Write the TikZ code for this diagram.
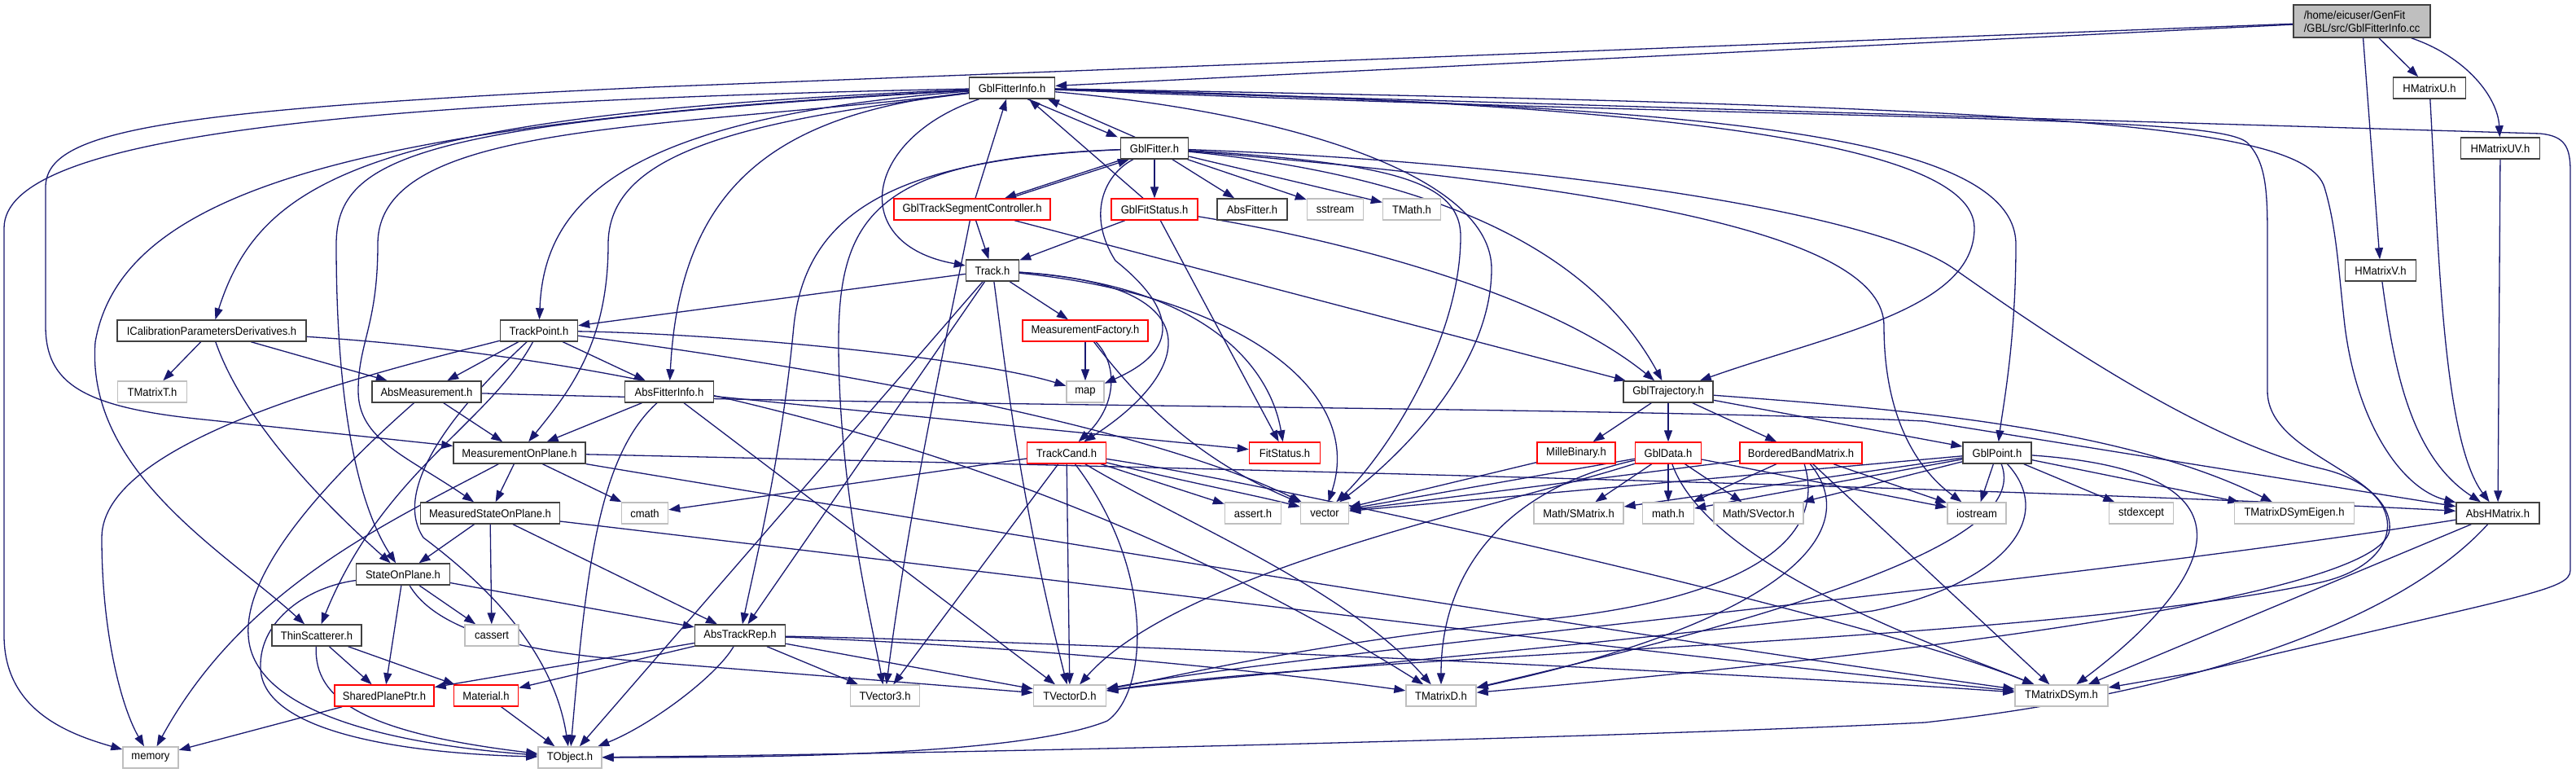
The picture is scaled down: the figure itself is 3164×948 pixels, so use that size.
\documentclass[tikz,border=0pt]{standalone}
\usepackage{fontspec}
\setmainfont{Liberation Sans}[FakeStretch=0.93]
\usetikzlibrary{arrows.meta,backgrounds}
\definecolor{eblue}{HTML}{191970}
\definecolor{gbord}{HTML}{BFBFBF}
\definecolor{nbord}{HTML}{404040}
\newcommand{\nfs}{\fontsize{14}{16}\selectfont}
\tikzset{
  box/.style={rectangle, fill=white, line width=1.4pt, minimum height=26pt, inner sep=0pt, font=\nfs},
  nb/.style={box, draw=nbord},
  rb/.style={box, draw=red},
  gb/.style={box, draw=gbord},
  e/.style={draw=eblue, line width=1.3pt, -{Triangle[length=14pt,width=10pt]}},
}
\begin{document}
\begin{tikzpicture}[x=1pt,y=-1pt]
\useasboundingbox (0,0) rectangle (3164,948);
% nodes
\node[box, draw=nbord, fill=gbord, minimum width=168pt, minimum height=40pt, align=left] (root) at (2901,26) {/home/eicuser/GenFit\\/GBL/src/GblFitterInfo.cc};
\node[nb, minimum width=105pt] (fi) at (1243,108) {GblFitterInfo.h};
\node[nb, minimum width=89pt] (hu) at (2984,108) {HMatrixU.h};
\node[nb, minimum width=97pt] (huv) at (3071,182) {HMatrixUV.h};
\node[nb, minimum width=87pt] (hv) at (2924,332) {HMatrixV.h};
\node[nb, minimum width=83pt] (gf) at (1418,182) {GblFitter.h};
\node[rb, minimum width=192pt] (tsc) at (1194,257) {GblTrackSegmentController.h};
\node[rb, minimum width=106pt] (gfs) at (1418,257) {GblFitStatus.h};
\node[nb, minimum width=86pt] (af) at (1538,257) {AbsFitter.h};
\node[gb, minimum width=69pt] (sst) at (1640,257) {sstream};
\node[gb, minimum width=71pt] (tmath) at (1734,257) {TMath.h};
\node[nb, minimum width=65pt] (track) at (1219,332) {Track.h};
\node[nb, minimum width=232pt] (icpd) at (260,406) {ICalibrationParametersDerivatives.h};
\node[nb, minimum width=95pt] (tp) at (662,406) {TrackPoint.h};
\node[rb, minimum width=154pt] (mf) at (1333,406) {MeasurementFactory.h};
\node[gb, minimum width=85pt] (tmt) at (187,481) {TMatrixT.h};
\node[nb, minimum width=134pt] (am) at (524,481) {AbsMeasurement.h};
\node[nb, minimum width=109pt] (afi) at (822,481) {AbsFitterInfo.h};
\node[gb, minimum width=46pt] (map) at (1333,481) {map};
\node[nb, minimum width=110pt] (traj) at (2049,481) {GblTrajectory.h};
\node[nb, minimum width=162pt] (mop) at (638,556) {MeasurementOnPlane.h};
\node[rb, minimum width=97pt] (tc) at (1310,556) {TrackCand.h};
\node[rb, minimum width=87pt] (fs) at (1578,556) {FitStatus.h};
\node[rb, minimum width=96pt] (mb) at (1936,556) {MilleBinary.h};
\node[rb, minimum width=81pt] (gd) at (2049,556) {GblData.h};
\node[rb, minimum width=150pt] (bbm) at (2212,556) {BorderedBandMatrix.h};
\node[nb, minimum width=84pt] (gp) at (2453,556) {GblPoint.h};
\node[nb, minimum width=171pt] (msop) at (602,630) {MeasuredStateOnPlane.h};
\node[gb, minimum width=57pt] (cmath) at (792,630) {cmath};
\node[gb, minimum width=69pt] (asrt) at (1539,630) {assert.h};
\node[gb, minimum width=59pt] (vec) at (1627,630) {vector};
\node[gb, minimum width=110pt] (smat) at (1939,630) {Math/SMatrix.h};
\node[gb, minimum width=63pt] (mathh) at (2049,630) {math.h};
\node[gb, minimum width=110pt] (svec) at (2160,630) {Math/SVector.h};
\node[gb, minimum width=72pt] (ios) at (2428,630) {iostream};
\node[gb, minimum width=79pt] (stde) at (2630,630) {stdexcept};
\node[gb, minimum width=147pt] (tdse) at (2818,630) {TMatrixDSymEigen.h};
\node[nb, minimum width=102pt] (ahm) at (3068,630) {AbsHMatrix.h};
\node[nb, minimum width=115pt] (sop) at (495,705) {StateOnPlane.h};
\node[nb, minimum width=110pt] (ts) at (389,780) {ThinScatterer.h};
\node[gb, minimum width=66pt] (cass) at (604,780) {cassert};
\node[nb, minimum width=111pt] (atr) at (909,780) {AbsTrackRep.h};
\node[rb, minimum width=122pt] (spp) at (472,854) {SharedPlanePtr.h};
\node[rb, minimum width=79pt] (mat) at (597,854) {Material.h};
\node[gb, minimum width=85pt] (tv3) at (1087,854) {TVector3.h};
\node[gb, minimum width=89pt] (tvd) at (1314,854) {TVectorD.h};
\node[gb, minimum width=86pt] (tmd) at (1770,854) {TMatrixD.h};
\node[gb, minimum width=114pt] (tmds) at (2532,854) {TMatrixDSym.h};
\node[gb, minimum width=68pt] (mem) at (185,930) {memory};
\node[gb, minimum width=78pt] (tobj) at (700,930) {TObject.h};

\begin{pgfonlayer}{background}
\fill[white] (0,0) rectangle (3164,948);
% root
\draw[e] (root) -- (fi);
\draw[e] (root) -- (800,107) .. controls (200,135) and (56,160) .. (56,230) -- (56,400) .. controls (56,470) and (100,500) .. (250,515) -- (mop);
\draw[e] (root) -- (hu);
\draw[e] (root) .. controls (3030,70) and (3068,120) .. (huv);
\draw[e] (root) -- (hv);
% HMatrix
\draw[e] (hu) .. controls (2995,300) and (3000,540) .. (ahm);
\draw[e] (huv) -- (ahm);
\draw[e] (hv) .. controls (2940,450) and (2960,560) .. (ahm);
% GblFitterInfo.h
\draw[e] ([xshift=19pt]fi.south) -- ([xshift=-3pt]gf.north west);
\draw[e] (fi) .. controls (1060,170) and (1040,300) .. (track);
\draw[e] (fi) .. controls (450,140) and (320,220) .. (icpd);
\draw[e] (fi) .. controls (760,145) and (668,250) .. (tp);
\draw[e] (fi) .. controls (950,140) and (835,230) .. (afi);
\draw[e] (fi) .. controls (900,150) and (747,190) .. (747,300) .. controls (747,420) and (700,480) .. (mop);
\draw[e] (fi) .. controls (520,150) and (413,190) .. (413,300) .. controls (413,500) and (440,620) .. (sop);
\draw[e] (fi) .. controls (800,160) and (464,150) .. (464,300) .. controls (464,400) and (440,420) .. (440,480) .. controls (440,540) and (500,560) .. (msop);
\draw[e] (fi) .. controls (450,150) and (150,230) .. (117,420) .. controls (105,580) and (280,680) .. (ts);
\draw[e] (fi) .. controls (400,125) and (5,170) .. (5,280) -- (5,780) .. controls (5,870) and (80,900) .. (mem);
\draw[e] (fi) .. controls (2000,125) and (2425,170) .. (2425,280) .. controls (2425,380) and (2250,410) .. (traj);
\draw[e] (fi) .. controls (2000,130) and (2476,150) .. (2476,300) .. controls (2476,420) and (2460,500) .. (gp);
\draw[e] (fi) .. controls (2500,130) and (2830,150) .. (2855,230) .. controls (2870,280) and (2872,330) .. (2880,400) .. controls (2895,520) and (2950,600) .. (ahm);
\draw[e] (fi) -- (3120,164) .. controls (3150,167) and (3157,180) .. (3157,210) -- (3157,700) .. controls (3157,725) and (3100,730) .. (2700,825) -- (tmds);
\draw[e] (fi) .. controls (2300,150) and (2720,140) .. (2760,175) .. controls (2785,200) and (2785,240) .. (2785,300) -- (2785,480) .. controls (2785,560) and (2940,580) .. (2935,650) .. controls (2930,720) and (2500,790) .. (tmd);
\draw[e] (fi) .. controls (1600,140) and (1832,220) .. (1832,330) .. controls (1832,450) and (1720,560) .. (vec);
% GblFitter.h
\draw[e] ([xshift=-24pt]gf.north) -- ([xshift=44pt]fi.south);
\draw[e] ([xshift=-39pt]gf.south) -- ([xshift=40pt]tsc.north);
\draw[e] (gf) -- (gfs);
\draw[e] (gf) -- (af);
\draw[e] (gf) -- (sst);
\draw[e] (gf) -- (tmath);
\draw[e] (gf) .. controls (1750,215) and (1950,300) .. (traj);
\draw[e] (gf) .. controls (1100,195) and (990,260) .. (975,400) .. controls (960,560) and (930,680) .. (atr);
\draw[e] (gf) .. controls (1080,195) and (1030,260) .. (1030,420) .. controls (1030,600) and (1070,760) .. (tv3);
\draw[e] (gf) .. controls (1355,215) and (1335,265) .. (1370,320) .. controls (1445,380) and (1450,430) .. (map);
\draw[e] (gf) .. controls (1700,200) and (1794,220) .. (1794,290) .. controls (1794,420) and (1700,560) .. (vec);
\draw[e] (gf) .. controls (2000,230) and (2314,290) .. (2314,400) .. controls (2314,520) and (2360,580) .. (ios);
\draw[e] (gf) .. controls (1900,200) and (2300,260) .. (2400,330) .. controls (2500,400) and (2700,540) .. (2850,575) .. controls (2960,600) and (2960,690) .. (2850,715) .. controls (2500,790) and (1700,800) .. (tvd);
% GblTrackSegmentController.h
\draw[e] ([xshift=4pt]tsc.north) -- ([xshift=-7pt]fi.south);
\draw[e] ([xshift=46pt]tsc.north) -- ([xshift=-31pt]gf.south);
\draw[e] (tsc) -- (track);
\draw[e] (tsc) -- (traj);
\draw[e] (tsc) .. controls (1170,380) and (1120,600) .. (tv3);
% GblFitStatus.h
\draw[e] ([xshift=-14pt]gfs.north) -- ([xshift=21pt]fi.south);
\draw[e] (gfs) -- (track);
\draw[e] (gfs) .. controls (1650,295) and (1900,360) .. (traj);
\draw[e] (gfs) -- (fs);
% Track.h
\draw[e] (track) -- (tp);
\draw[e] (track) -- (mf);
\draw[e] (track) -- (atr);
\draw[e] (track) .. controls (1235,450) and (1250,600) .. (tvd);
\draw[e] (track) .. controls (1500,350) and (1460,460) .. (tc);
\draw[e] (track) .. controls (1480,350) and (1560,450) .. (fs);
\draw[e] (track) .. controls (1500,360) and (1680,470) .. (vec);
\draw[e] (track) -- (tobj);
% ICalibrationParametersDerivatives.h
\draw[e] (icpd) -- (tmt);
\draw[e] (icpd) -- (am);
\draw[e] (icpd) .. controls (300,520) and (400,620) .. (sop);
\draw[e] (icpd) .. controls (800,440) and (1300,560) .. (tmd);
% TrackPoint.h
\draw[e] (tp) -- (am);
\draw[e] (tp) -- (afi);
\draw[e] (tp) .. controls (600,520) and (470,580) .. (ts);
\draw[e] (tp) .. controls (560,500) and (480,600) .. (520,660) .. controls (600,720) and (680,800) .. (tobj);
\draw[e] (tp) .. controls (900,410) and (1200,440) .. (map);
\draw[e] (tp) .. controls (1000,450) and (1400,520) .. (vec);
\draw[e] (tp) .. controls (450,460) and (125,540) .. (125,660) .. controls (125,780) and (150,870) .. (mem);
% MeasurementFactory.h
\draw[e] (mf) -- (map);
\draw[e] (mf) .. controls (1375,450) and (1370,500) .. (tc);
\draw[e] (mf) .. controls (1390,480) and (1460,560) .. (vec);
% AbsMeasurement.h
\draw[e] (am) -- (mop);
\draw[e] (am) .. controls (400,590) and (300,700) .. (305,780) .. controls (310,880) and (500,915) .. (tobj);
\draw[e] (am) .. controls (1200,500) and (2000,500) .. (2364,517) -- (ahm);
% AbsFitterInfo.h
\draw[e] (afi) -- (mop);
\draw[e] (afi) -- (fs);
\draw[e] (afi) .. controls (735,560) and (720,700) .. (tobj);
\draw[e] (afi) -- (tvd);
% GblTrajectory.h
\draw[e] (traj) -- (mb);
\draw[e] (traj) -- (gd);
\draw[e] (traj) -- (bbm);
\draw[e] (traj) -- (gp);
\draw[e] (traj) .. controls (2300,500) and (2600,520) .. (tdse);
% MeasurementOnPlane.h
\draw[e] (mop) -- (msop);
\draw[e] (mop) -- (cmath);
\draw[e] (mop) .. controls (1500,575) and (2500,600) .. (ahm);
\draw[e] (mop) .. controls (1200,650) and (2000,780) .. (tmds);
\draw[e] (mop) .. controls (480,640) and (300,720) .. (mem);
% TrackCand.h
\draw[e] (tc) -- (cmath);
\draw[e] (tc) -- (tv3);
\draw[e] (tc) -- (tvd);
\draw[e] (tc) .. controls (1420,700) and (1410,850) .. (1360,885) .. controls (1250,930) and (900,930) .. (tobj);
\draw[e] (tc) .. controls (1450,640) and (1650,720) .. (tmd);
\draw[e] (tc) -- (asrt);
\draw[e] (tc) .. controls (1600,600) and (2300,760) .. (tmds);
\draw[e] (tc) .. controls (1450,590) and (1550,610) .. (vec);
% MilleBinary / GblData / BorderedBandMatrix
\draw[e] (mb) -- (vec);
\draw[e] (gd) -- (vec);
\draw[e] (gd) -- (smat);
\draw[e] (gd) -- (mathh);
\draw[e] (gd) -- (svec);
\draw[e] (gd) -- (ios);
\draw[e] (gd) .. controls (1850,620) and (1450,700) .. (tvd);
\draw[e] (gd) .. controls (1850,600) and (1770,700) .. (tmd);
\draw[e] (gd) .. controls (2100,700) and (2400,800) .. (tmds);
\draw[e] (bbm) -- (vec);
\draw[e] (bbm) -- (mathh);
\draw[e] (bbm) -- (ios);
\draw[e] (bbm) .. controls (2250,680) and (2100,740) .. (1900,760) .. controls (1600,790) and (1450,830) .. (tvd);
\draw[e] (bbm) .. controls (2290,650) and (2200,760) .. (tmd);
\draw[e] (bbm) -- (tmds);
% GblPoint.h
\draw[e] (gp) -- (vec);
\draw[e] (gp) -- (smat);
\draw[e] (gp) -- (mathh);
\draw[e] (gp) -- (svec);
\draw[e] (gp) -- (ios);
\draw[e] (gp) -- (stde);
\draw[e] (gp) -- (tdse);
\draw[e] (gp) .. controls (2530,640) and (2450,720) .. (2300,750) .. controls (1900,800) and (1500,830) .. (tvd);
\draw[e] (gp) .. controls (2485,640) and (2350,720) .. (tmd);
\draw[e] (gp) .. controls (2800,580) and (2710,720) .. (tmds);
% MeasuredStateOnPlane.h
\draw[e] (msop) -- (sop);
\draw[e] (msop) -- (cass);
\draw[e] (msop) -- (atr);
\draw[e] (msop) .. controls (1200,700) and (2000,800) .. (tmds);
% StateOnPlane.h
\draw[e] (sop) -- (spp);
\draw[e] (sop) -- (cass);
\draw[e] (sop) -- (atr);
\draw[e] (sop) .. controls (545,790) and (700,805) .. (800,813) -- (tvd);
\draw[e] (sop) .. controls (380,720) and (318,760) .. (320,820) .. controls (322,900) and (500,925) .. (tobj);
% ThinScatterer.h
\draw[e] (ts) -- (spp);
\draw[e] (ts) -- (mat);
\draw[e] (ts) .. controls (385,860) and (450,900) .. (tobj);
% AbsTrackRep.h
\draw[e] (atr) -- (spp);
\draw[e] (atr) -- (mat);
\draw[e] (atr) .. controls (880,830) and (800,890) .. (tobj);
\draw[e] (atr) -- (tv3);
\draw[e] (atr) -- (tvd);
\draw[e] (atr) .. controls (1300,795) and (1600,830) .. (tmd);
\draw[e] (atr) .. controls (1400,790) and (2200,830) .. (tmds);
% others
\draw[e] (spp) -- (mem);
\draw[e] (mat) -- (tobj);
\draw[e] (ahm) .. controls (2500,720) and (1600,800) .. (tvd);
\draw[e] (ahm) -- (tmds);
\draw[e] (ahm) .. controls (2950,760) and (2700,850) .. (2364,887) .. controls (2000,905) and (1200,925) .. (tobj);
\end{pgfonlayer}
\end{tikzpicture}
\end{document}
